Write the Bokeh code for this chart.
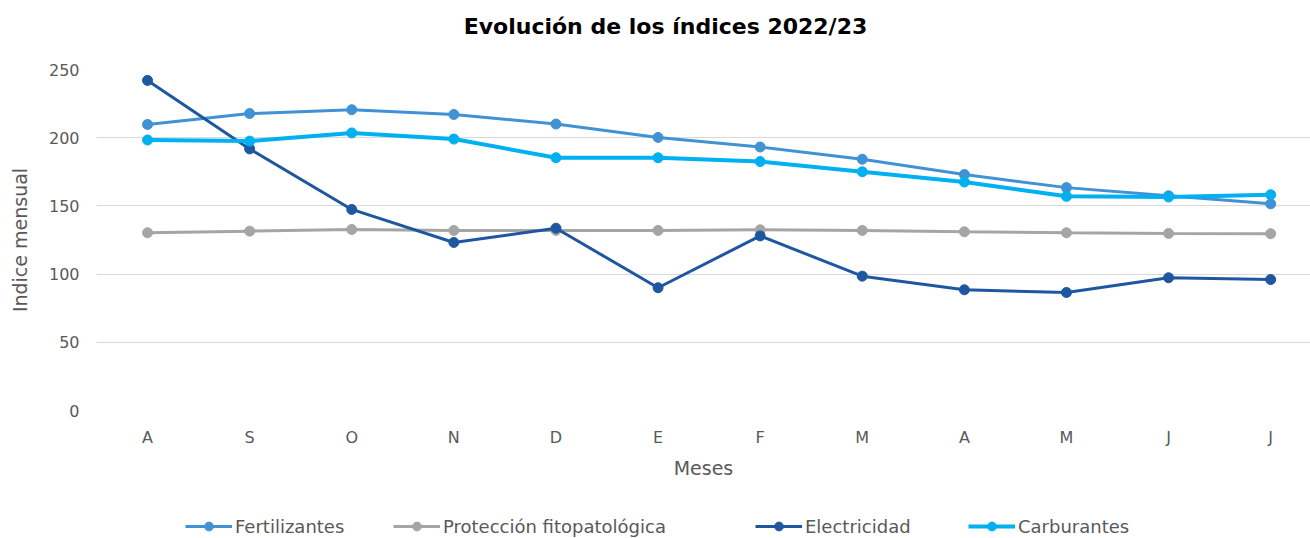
from bokeh.plotting import figure
from bokeh.layouts import column
from bokeh.models import Range1d, FixedTicker, Legend, LegendItem, Label
from bokeh.embed import file_html
from bokeh.resources import INLINE

months = ["A", "S", "O", "N", "D", "E", "F", "M", "A", "M", "J", "J"]
fertilizantes = [209.7, 217.7, 220.5, 217.0, 210.0, 200.2, 193.2, 184.2, 173.0, 163.4, 157.4, 151.5]
proteccion = [130.3, 131.5, 132.7, 132.0, 132.0, 132.0, 132.5, 132.0, 131.0, 130.3, 129.8, 129.6]
electricidad = [242.0, 191.8, 147.4, 123.2, 133.6, 90.0, 128.0, 98.5, 88.5, 86.5, 97.3, 96.0]
carburantes = [198.3, 197.5, 203.5, 199.0, 185.3, 185.3, 182.5, 175.0, 167.5, 157.0, 156.5, 158.2]
y_ticks = [0, 50, 100, 150, 200, 250]

FONT = "DejaVu Sans"
TXT = "#595959"
x = list(range(len(months)))


def strip(height):
    f = figure(width=1310, height=height, output_backend="svg", toolbar_location=None,
               x_range=Range1d(96, 1310), y_range=Range1d(0, 1),
               min_border_left=96, min_border_right=0, min_border_top=0, min_border_bottom=0)
    f.axis.visible = False
    f.grid.visible = False
    f.outline_line_color = None
    f.background_fill_color = "white"
    f.border_fill_color = "white"
    return f


# title strip
pt = strip(60)
pt.add_layout(Label(x=665, y=0.56, text="Evolución de los índices 2022/23",
                    text_font=FONT, text_font_style="bold", text_font_size="22px",
                    text_color="#000000", text_align="center", text_baseline="middle"))

# main chart
p = figure(width=1310, height=430, output_backend="svg", toolbar_location=None,
           x_range=Range1d(-0.5, 11.39), y_range=Range1d(0, 250),
           min_border_left=96, min_border_right=0, min_border_top=9, min_border_bottom=80)
p.outline_line_color = None
p.background_fill_color = "white"
p.border_fill_color = "white"

p.xgrid.grid_line_color = None
p.ygrid.grid_line_color = "#D9D9D9"
p.ygrid.grid_line_width = 1
p.yaxis.ticker = FixedTicker(ticks=y_ticks)
p.xaxis.ticker = FixedTicker(ticks=x)
p.xaxis.major_label_overrides = {i: m for i, m in enumerate(months)}

for ax in (p.xaxis, p.yaxis):
    ax.axis_line_color = None
    ax.major_tick_line_color = None
    ax.minor_tick_line_color = None
    ax.major_tick_out = 0
    ax.major_tick_in = 0
    ax.minor_tick_out = 0
    ax.minor_tick_in = 0
    ax.major_label_text_font = FONT
    ax.major_label_text_color = TXT
    ax.major_label_text_font_size = "16px"
    ax.axis_label_text_font = FONT
    ax.axis_label_text_color = TXT
    ax.axis_label_text_font_size = "19px"
    ax.axis_label_text_font_style = "normal"

p.xaxis.axis_label = "Meses"
p.xaxis.major_label_standoff = 17
p.xaxis.axis_label_standoff = 7
p.yaxis.axis_label = "Indice mensual"
p.yaxis.major_label_standoff = 17
p.yaxis.axis_label_standoff = 15

series = [
    ("Fertilizantes", fertilizantes, "#4192D4", 3),
    ("Protección fitopatológica", proteccion, "#A5A5A5", 3),
    ("Electricidad", electricidad, "#1E57A0", 3),
    ("Carburantes", carburantes, "#00B0F0", 4),
]
legend_x = [89, 297, 659, 872]

# legend strip
pl = strip(48)

for (name, vals, color, lw), lx in zip(series, legend_x):
    p.line(x, vals, line_color=color, line_width=lw)
    p.scatter(x, vals, size=10, marker="circle", fill_color=color, line_color=color)
    ll = pl.line([2000, 2001], [5, 5], line_color=color, line_width=lw)
    lc = pl.scatter([2000], [5], size=9, marker="circle", fill_color=color, line_color=color)
    lg = Legend(items=[LegendItem(label=name, renderers=[ll, lc])], location=(lx, 1),
                label_text_font=FONT, label_text_font_size="18px", label_text_color=TXT,
                glyph_width=47, glyph_height=22, label_standoff=3,
                padding=0, margin=0, border_line_color=None, background_fill_alpha=0)
    pl.add_layout(lg, "center")

layout = column(pt, p, pl, spacing=0)
open("out.html", "w").write(file_html(layout, INLINE))
